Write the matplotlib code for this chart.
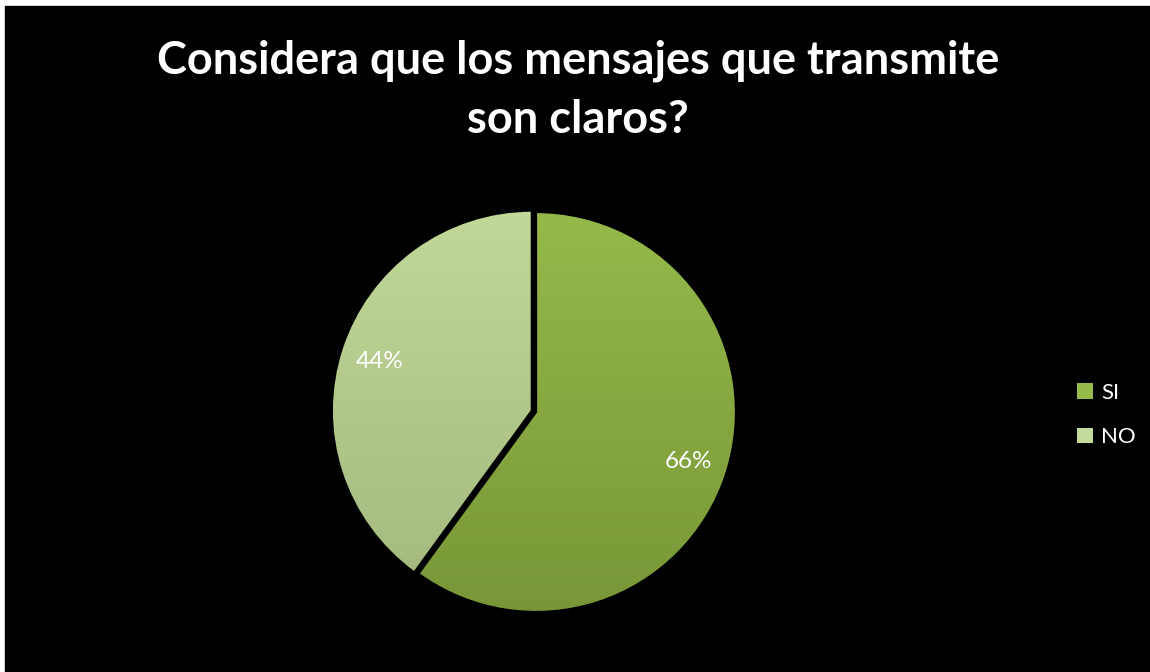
import matplotlib.pyplot as plt
import numpy as np
from matplotlib.patches import Rectangle, Patch
from matplotlib.colors import LinearSegmentedColormap

# Survey answers
categories = ['SI', 'NO']
values = [66, 44]
pct_labels = ['66%', '44%']
title_lines = ['Considera que los mensajes que transmite', 'son claros?']

top_colors = ['#96bb4b', '#c2da9a']
bottom_colors = ['#779536', '#a2b67c']

W, H = 1150, 672
fig = plt.figure(figsize=(W / 100, H / 100), dpi=100)
fig.patch.set_facecolor('white')
fig.patches.append(Rectangle((5 / W, 0), 1 - 5 / W, (H - 6) / H,
                             transform=fig.transFigure, color='black', zorder=-1))

# square axes centred on the pie
cx, cy, r = 536, 260, 200
side = 2.2 * r
ax = fig.add_axes([(cx - side / 2) / W, (cy - side / 2) / H, side / W, side / H])
ax.axis('off')

wedges, _ = ax.pie(values, startangle=90, counterclock=False,
                   colors=bottom_colors, explode=[0, 0.022],
                   wedgeprops=dict(edgecolor='black', linewidth=1.6))
ax.set_xlim(-1.1, 1.1)
ax.set_ylim(-1.1, 1.1)

# vertical gradient fill inside each slice
grad = np.linspace(0, 1, 256).reshape(-1, 1)
for w, c0, c1 in zip(wedges, bottom_colors, top_colors):
    cmap = LinearSegmentedColormap.from_list('g', [c0, c1])
    im = ax.imshow(grad, extent=(-1.1, 1.1, -1.1, 1.1), origin='lower',
                   cmap=cmap, aspect='auto', zorder=2)
    im.set_clip_path(w)
    w.set_facecolor('none')
    w.set_zorder(3)

# percentage labels
for w, txt in zip(wedges, pct_labels):
    ang = np.deg2rad((w.theta1 + w.theta2) / 2)
    x0, y0 = w.center
    ax.text(x0 + 0.8 * np.cos(ang), y0 + 0.8 * np.sin(ang), txt,
            color='white', fontsize=17.5, ha='center', va='center',
            family='Lato', zorder=6)

for line, base in zip(title_lines, [73, 133]):
    fig.text(578 / W, 1 - base / H, line, color='white', fontsize=32.5,
             fontweight='bold', family='Lato', ha='center', va='baseline')

handles = [Patch(facecolor=c) for c in top_colors]
leg = fig.legend(handles, categories, loc='center left',
                 bbox_to_anchor=(1057 / W, 1 - 415 / H), frameon=False,
                 handlelength=0.7, handleheight=0.7,
                 handletextpad=0.4, labelspacing=1.1,
                 prop=dict(family='Lato', size=16))
for t in leg.get_texts():
    t.set_color('white')

fig.savefig('out.png', dpi=100, facecolor=fig.get_facecolor())
